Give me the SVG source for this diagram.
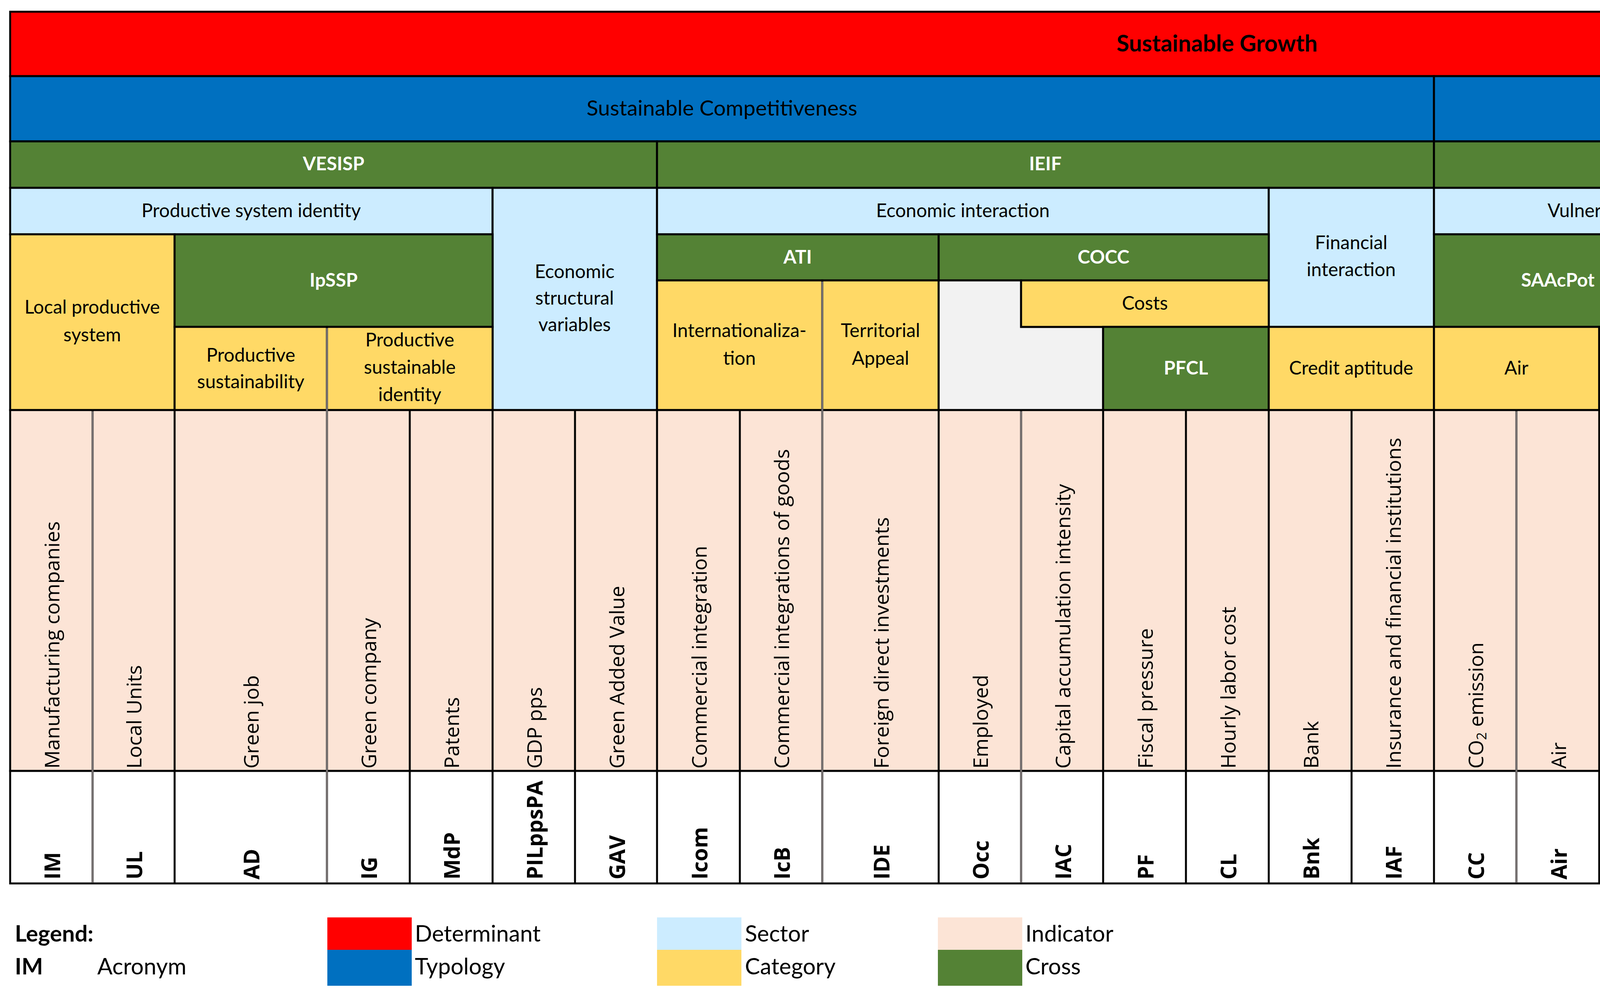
<svg xmlns="http://www.w3.org/2000/svg" width="6232" height="2540" viewBox="0 0 6232 2540">
<style>
rect.c{stroke:#000;stroke-width:5}
.red{fill:#FF0000}.blue{fill:#0070C0}.grn{fill:#548235}.sec{fill:#CCECFF}.cat{fill:#FFD966}.ind{fill:#FCE4D6}.gry{fill:#F2F2F2}.wht{fill:#FFFFFF}
text{font-family:Lato,"Liberation Sans",sans-serif;font-size:48px;fill:#000;text-anchor:middle}
text.w{fill:#fff;font-weight:bold}
text.h2{font-size:55px}
text.h1{font-size:59px;font-weight:bold}
text.v{font-family:"Open Sans","DejaVu Sans",sans-serif;font-size:52px;text-anchor:start}
text.a{font-family:"Open Sans","DejaVu Sans",sans-serif;font-size:55px;font-weight:bold;text-anchor:start}
text.lg{font-size:58px;text-anchor:start}
line.g{stroke:#767171;stroke-width:5}
</style>

<g id="determinant">
<rect class="c red" x="26" y="30" width="6180" height="165"/>
<text class="h1" x="3116" y="132">Sustainable Growth</text>
</g>

<g id="typology-sc"><rect class="c blue" x="26" y="195" width="3645" height="167"/><text class="h2" x="1848" y="296">Sustainable Competitiveness</text></g>
<g id="typology-cca"><rect class="c blue" x="3671" y="195" width="1901" height="167"/><text class="h2" x="4621" y="296">Climate Change Adaptation (CCA)</text></g>
<g id="typology-is"><rect class="c blue" x="5572" y="195" width="634" height="167"/><text class="h2" x="5889" y="261">Infrastructure</text><text class="h2" x="5889" y="335">sustainability</text></g>

<g id="vesisp"><rect class="c grn" x="26" y="362" width="1656" height="119"/><text class="w" x="854" y="436">VESISP</text></g>
<g id="ieif"><rect class="c grn" x="1682" y="362" width="1989" height="119"/><text class="w" x="2676" y="436">IEIF</text></g>
<g id="rivuln"><rect class="c grn" x="3671" y="362" width="1480" height="119"/><text class="w" x="4411" y="436">RiVuln</text></g>
<g id="env-coop"><rect class="c sec" x="5151" y="362" width="421" height="688"/><text x="5361" y="688">Environmental</text><text x="5361" y="757">cooperation</text></g>
<g id="infra-acc"><rect class="c cat" x="5572" y="362" width="424" height="688"/><text x="5784" y="688">Infrastructure</text><text x="5784" y="757">accessibility</text></g>
<g id="blank-infra"><rect class="c gry" x="5996" y="362" width="210" height="688"/></g>

<g id="prod-sys-id"><rect class="c sec" x="26" y="481" width="1235" height="119"/><text x="643" y="556">Productive system identity</text></g>
<g id="econ-struct"><rect class="c sec" x="1261" y="481" width="421" height="569"/><text x="1471" y="712">Economic</text><text x="1471" y="780">structural</text><text x="1471" y="848">variables</text></g>
<g id="econ-inter"><rect class="c sec" x="1682" y="481" width="1566" height="119"/><text x="2465" y="556">Economic interaction</text></g>
<g id="fin-inter"><rect class="c sec" x="3248" y="481" width="423" height="356"/><text x="3459" y="638">Financial</text><text x="3459" y="707">interaction</text></g>
<g id="vulnerability"><rect class="c sec" x="3671" y="481" width="846" height="119"/><text x="4094" y="556">Vulnerability</text></g>
<g id="wastes"><rect class="c sec" x="4517" y="481" width="634" height="356"/><text x="4834" y="675">Wastes</text></g>

<g id="local-prod"><rect class="c cat" x="26" y="600" width="421" height="450"/><text x="236" y="803">Local productive</text><text x="236" y="874">system</text></g>
<g id="ipssp"><rect class="c grn" x="447" y="600" width="814" height="237"/><text class="w" x="854" y="734">IpSSP</text></g>
<g id="prod-sust"><rect class="c cat" x="447" y="837" width="390" height="213"/><text x="642" y="926">Productive</text><text x="642" y="994">sustainability</text></g>
<g id="prod-sust-id"><rect class="c cat" x="837" y="837" width="424" height="213"/><text x="1049" y="887">Productive</text><text x="1049" y="957">sustainable</text><text x="1049" y="1027">identity</text></g>
<g id="ati"><rect class="c grn" x="1682" y="600" width="721" height="118"/><text class="w" x="2042" y="675">ATI</text></g>
<g id="cocc"><rect class="c grn" x="2403" y="600" width="845" height="118"/><text class="w" x="2825" y="675">COCC</text></g>
<g id="internat"><rect class="c cat" x="1682" y="718" width="423" height="332"/><text x="1893" y="863">Internationaliza-</text><text x="1893" y="934">tion</text></g>
<g id="terr-appeal"><rect class="c cat" x="2105" y="718" width="298" height="332"/><text x="2254" y="863">Territorial</text><text x="2254" y="934">Appeal</text></g>
<g id="blank-cocc"><path d="M2403 718H2614V837H2824V1050H2403Z" fill="#F2F2F2" stroke="#000" stroke-width="5"/></g>
<g id="costs"><rect class="c cat" x="2614" y="718" width="634" height="119"/><text x="2931" y="793">Costs</text></g>
<g id="pfcl"><rect class="c grn" x="2824" y="837" width="424" height="213"/><text class="w" x="3036" y="959">PFCL</text></g>
<g id="credit"><rect class="c cat" x="3248" y="837" width="423" height="213"/><text x="3459" y="959">Credit aptitude</text></g>
<g id="saacpot"><rect class="c grn" x="3671" y="600" width="634" height="237"/><text class="w" x="3988" y="734">SAAcPot</text></g>
<g id="risk-cat"><rect class="c cat" x="4305" y="600" width="212" height="450"/><text x="4411" y="840">Risk</text></g>
<g id="air-cat"><rect class="c cat" x="3671" y="837" width="423" height="213"/><text x="3882" y="959">Air</text></g>
<g id="water-cat"><rect class="c cat" x="4094" y="837" width="211" height="213"/><text x="4199" y="959">Water</text></g>
<g id="blank-wastes"><rect class="c gry" x="4517" y="837" width="212" height="213"/></g>
<g id="urban-dang"><rect class="c cat" x="4729" y="837" width="422" height="213"/><text x="4940" y="923">Urban and</text><text x="4940" y="993">dangerous wastes</text></g>

<g id="indicators">
<rect class="c ind" x="26" y="1050" width="6180" height="924"/>
<rect class="c wht" x="26" y="1974" width="6180" height="288"/>
</g>

<g id="col-lines">
<path d="M237 1050V2262M447 1050V2262M837 1050V2262M1049 1050V2262M1261 1050V2262M1472 1050V2262M1682 1050V2262M1894 1050V2262M2105 1050V2262M2403 1050V2262M2614 1050V2262M2824 1050V2262M3036 1050V2262M3248 1050V2262M3460 1050V2262M3671 1050V2262M3882 1050V2262M4094 1050V2262M4305 1050V2262M4517 1050V2262M4729 1050V2262M4939 1050V2262M5151 1050V2262M5362 1050V2262M5572 1050V2262M5784 1050V2262M5996 1050V2262" stroke="#000" stroke-width="5" fill="none"/>
<line class="g" x1="237" y1="1053" x2="237" y2="2260"/>
<line class="g" x1="837" y1="840" x2="837" y2="2260"/>
<line class="g" x1="2105" y1="721" x2="2105" y2="2260"/>
<line class="g" x1="2614" y1="1053" x2="2614" y2="2260"/>
<line class="g" x1="3882" y1="1053" x2="3882" y2="2260"/>
<line class="g" x1="5151" y1="365" x2="5151" y2="2260"/>
<line class="g" x1="5362" y1="1053" x2="5362" y2="2260"/>
</g>

<g id="ind-IM"><text class="v" transform="translate(152,1968) rotate(-90)">Manufacturing companies</text><text class="a" transform="translate(154,2252) rotate(-90)">IM</text></g>
<g id="ind-UL"><text class="v" transform="translate(362,1968) rotate(-90)">Local Units</text><text class="a" transform="translate(364,2252) rotate(-90)">UL</text></g>
<g id="ind-AD"><text class="v" transform="translate(662,1968) rotate(-90)">Green job</text><text class="a" transform="translate(664,2252) rotate(-90)">AD</text></g>
<g id="ind-IG"><text class="v" transform="translate(963,1968) rotate(-90)">Green company</text><text class="a" transform="translate(965,2252) rotate(-90)">IG</text></g>
<g id="ind-MdP"><text class="v" transform="translate(1175,1968) rotate(-90)">Patents</text><text class="a" transform="translate(1177,2252) rotate(-90)">MdP</text></g>
<g id="ind-PILppsPA"><text class="v" transform="translate(1387,1968) rotate(-90)">GDP pps</text><text class="a" transform="translate(1389,2252) rotate(-90)">PILppsPA</text></g>
<g id="ind-GAV"><text class="v" transform="translate(1598,1968) rotate(-90)">Green Added Value</text><text class="a" transform="translate(1600,2252) rotate(-90)">GAV</text></g>
<g id="ind-Icom"><text class="v" transform="translate(1809,1968) rotate(-90)">Commercial integration</text><text class="a" transform="translate(1811,2252) rotate(-90)">Icom</text></g>
<g id="ind-IcB"><text class="v" transform="translate(2020,1968) rotate(-90)">Commercial integrations of goods</text><text class="a" transform="translate(2022,2252) rotate(-90)">IcB</text></g>
<g id="ind-IDE"><text class="v" transform="translate(2275,1968) rotate(-90)">Foreign direct investments</text><text class="a" transform="translate(2277,2252) rotate(-90)">IDE</text></g>
<g id="ind-Occ"><text class="v" transform="translate(2529,1968) rotate(-90)">Employed</text><text class="a" transform="translate(2531,2252) rotate(-90)">Occ</text></g>
<g id="ind-IAC"><text class="v" transform="translate(2740,1968) rotate(-90)">Capital accumulation intensity</text><text class="a" transform="translate(2742,2252) rotate(-90)">IAC</text></g>
<g id="ind-PF"><text class="v" transform="translate(2951,1968) rotate(-90)">Fiscal pressure</text><text class="a" transform="translate(2953,2252) rotate(-90)">PF</text></g>
<g id="ind-CL"><text class="v" transform="translate(3163,1968) rotate(-90)">Hourly labor cost</text><text class="a" transform="translate(3165,2252) rotate(-90)">CL</text></g>
<g id="ind-Bnk"><text class="v" transform="translate(3375,1968) rotate(-90)">Bank</text><text class="a" transform="translate(3377,2252) rotate(-90)">Bnk</text></g>
<g id="ind-IAF"><text class="v" transform="translate(3586,1968) rotate(-90)">Insurance and financial institutions</text><text class="a" transform="translate(3588,2252) rotate(-90)">IAF</text></g>
<g id="ind-CC"><text class="v" transform="translate(3797,1968) rotate(-90)">CO<tspan font-size="35" dy="8">2</tspan><tspan dy="-8"> emission</tspan></text><text class="a" transform="translate(3799,2252) rotate(-90)">CC</text></g>
<g id="ind-Air"><text class="v" transform="translate(4009,1968) rotate(-90)">Air</text><text class="a" transform="translate(4011,2252) rotate(-90)">Air</text></g>
<g id="ind-AcPot"><text class="v" transform="translate(4220,1968) rotate(-90)">Water for human use</text><text class="a" transform="translate(4222,2252) rotate(-90)">AcPot</text></g>
<g id="ind-Risk"><text class="v" transform="translate(4432,1968) rotate(-90)">Risk</text><text class="a" transform="translate(4434,2252) rotate(-90)">Risk</text></g>
<g id="ind-RaccD"><text class="v" transform="translate(4644,1968) rotate(-90)">Separate waste collection</text><text class="a" transform="translate(4646,2252) rotate(-90)">RaccD</text></g>
<g id="ind-RifP"><text class="v" transform="translate(4855,1968) rotate(-90)">Hazardous waste</text><text class="a" transform="translate(4857,2252) rotate(-90)">RifP</text></g>
<g id="ind-RifU"><text class="v" transform="translate(5066,1968) rotate(-90)">Urban waste</text><text class="a" transform="translate(5068,2252) rotate(-90)">RifU</text></g>
<g id="ind-AAG"><text class="v" transform="translate(5277,1968) rotate(-90)">Environmental general agreement</text><text class="a" transform="translate(5279,2252) rotate(-90)">AAG</text></g>
<g id="ind-SNA"><text class="v" transform="translate(5488,1968) rotate(-90)">SEA and EIA</text><text class="a" transform="translate(5490,2252) rotate(-90)">SNA</text></g>
<g id="ind-AccM"><text class="v" transform="translate(5699,1968) rotate(-90)">Multimodal accessibility</text><text class="a" transform="translate(5701,2252) rotate(-90)">AccM</text></g>
<g id="ind-BL"><text class="v" transform="translate(5911,1968) rotate(-90)">Broadband penetration level</text><text class="a" transform="translate(5913,2252) rotate(-90)">BL</text></g>
<g id="ind-IAutEn"><text class="v" transform="translate(6122,1968) rotate(-90)">Energy self-sufficiency index</text><text class="a" transform="translate(6124,2252) rotate(-90)">IAutEn</text></g>

<g id="legend">
<text class="lg" x="38" y="2411" font-weight="bold">Legend:</text>
<text class="lg" x="38" y="2495" font-weight="bold">IM</text>
<text class="lg" x="249" y="2495">Acronym</text>
<rect class="red" x="838" y="2349" width="216" height="83"/>
<rect class="blue" x="838" y="2432" width="216" height="92"/>
<text class="lg" x="1062" y="2411">Determinant</text>
<text class="lg" x="1062" y="2495">Typology</text>
<rect class="sec" x="1682" y="2349" width="216" height="83"/>
<rect class="cat" x="1682" y="2432" width="216" height="92"/>
<text class="lg" x="1907" y="2411">Sector</text>
<text class="lg" x="1907" y="2495">Category</text>
<rect class="ind" x="2401" y="2349" width="216" height="83"/>
<rect class="grn" x="2401" y="2432" width="216" height="92"/>
<text class="lg" x="2625" y="2411">Indicator</text>
<text class="lg" x="2625" y="2495">Cross</text>
</g>
</svg>
